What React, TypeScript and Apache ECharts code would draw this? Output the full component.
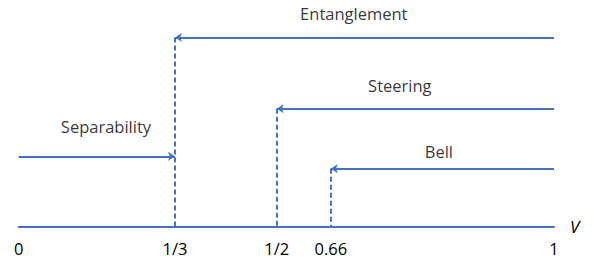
import React, { useEffect, useRef } from "react";
import * as echarts from "echarts";

// x positions of the marked thresholds, as read from the (schematic) picture, on a 0..1 axis
const xTickValues = [0, 0.292, 0.482, 0.583, 1];
const xTickLabels = ["0", "1/3", "1/2", "0.66", "1"];

// regimes that hold from a threshold up to V = 1 (arrow pointing left)
const regimeNames = ["Entanglement", "Steering", "Bell"];
const regimeThresholds = [0.292, 0.482, 0.583];
const regimeLevels = [0.835, 0.5205, 0.256];

// separability holds from 0 up to 1/3 (arrow pointing right)
const separabilityStart = 0;
const separabilityEnd = 0.292;
const separabilityLevel = 0.3105;

// text labels and their anchor points
const labelNames = ["Entanglement", "Steering", "Bell", "Separability"];
const labelX = [0.626, 0.712, 0.785, 0.163];
const labelY = [0.94, 0.621, 0.33, 0.444];

const BLUE = "#4472C4";
const FONT = "Open Sans";

export default function App() {
  const ref = useRef<HTMLDivElement>(null);

  useEffect(() => {
    if (!ref.current) return;
    const chart = echarts.init(ref.current, undefined, { renderer: "svg" });

    const arrowData = regimeNames.map((n, i) => ({
      name: n,
      coords: [
        [1, regimeLevels[i]],
        [regimeThresholds[i], regimeLevels[i]],
      ],
    }));
    arrowData.push({
      name: "Separability",
      coords: [
        [separabilityStart, separabilityLevel],
        [separabilityEnd, separabilityLevel],
      ],
    });

    const dashData = regimeNames.map((n, i) => ({
      name: n,
      coords: [
        [regimeThresholds[i], regimeLevels[i]],
        [regimeThresholds[i], 0],
      ],
    }));

    chart.setOption({
      animation: false,
      grid: { left: 18.7, right: 40, top: 0, bottom: 34.3 },
      xAxis: {
        type: "value",
        min: 0,
        max: 1,
        name: "V",
        nameLocation: "end",
        nameGap: 16,
        nameTextStyle: {
          fontFamily: FONT,
          fontStyle: "italic",
          fontSize: 17,
          color: "#000",
          verticalAlign: "middle",
          padding: [5, 0, 0, 0],
        },
        axisLine: { show: true, lineStyle: { color: BLUE, width: 2 } },
        axisTick: { show: false },
        splitLine: { show: false },
        axisLabel: {
          customValues: xTickValues,
          margin: 13,
          fontFamily: FONT,
          fontSize: 16.5,
          color: "#000",
          formatter: (v: number) => {
            let best = 0;
            xTickValues.forEach((t, i) => {
              if (Math.abs(t - v) < Math.abs(xTickValues[best] - v)) best = i;
            });
            return xTickLabels[best];
          },
        },
      },
      yAxis: {
        type: "value",
        min: 0,
        max: 1,
        show: false,
      },
      series: [
        {
          type: "lines",
          coordinateSystem: "cartesian2d",
          symbol: ["none", "arrow"],
          symbolSize: 7,
          lineStyle: { color: BLUE, width: 2, opacity: 1, curveness: 0 },
          data: arrowData,
          silent: true,
          z: 3,
        },
        {
          type: "lines",
          coordinateSystem: "cartesian2d",
          symbol: ["none", "none"],
          lineStyle: { color: BLUE, width: 2, opacity: 1, type: [5, 3], curveness: 0 },
          data: dashData,
          silent: true,
          z: 2,
        },
        {
          type: "scatter",
          symbolSize: 0,
          itemStyle: { color: "rgba(0,0,0,0)" },
          clip: false,
          silent: true,
          data: labelNames.map((n, i) => ({ name: n, value: [labelX[i], labelY[i]] })),
          label: {
            show: true,
            position: "inside",
            formatter: "{b}",
            fontFamily: FONT,
            fontSize: 16.5,
            color: "#000",
          },
        },
      ],
    });

    return () => chart.dispose();
  }, []);

  return (
    <div
      ref={ref}
      style={{ position: "fixed", left: 0, top: 0, width: 594, height: 261, background: "#fff" }}
    />
  );
}
